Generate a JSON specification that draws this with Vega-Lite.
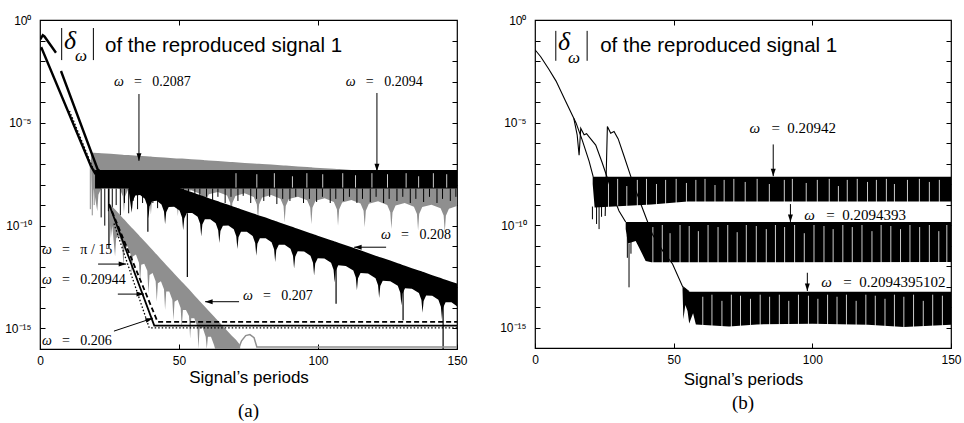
{
"$schema": "https://vega.github.io/schema/vega-lite/v6.json",
"background": "white",
"padding": {"left": 4, "top": 8, "right": 5, "bottom": 5},
"spacing": 31,
"config": {
  "view": {"stroke": "#000", "strokeWidth": 1.2},
  "axis": {"domain": false, "grid": false, "tickColor": "#000", "tickWidth": 1, "tickSize": -5, "labelFont": "Liberation Sans", "labelFontSize": 12, "labelColor": "#000", "titleFont": "Liberation Sans", "titleFontSize": 17, "titleFontWeight": "normal", "titleColor": "#000", "labelFlush": false, "labelOverlap": false}
},
"datasets": {
"L_g2087": [
{"x":18.3,"hi":-6.45,"lo":-6.6},{"x":18.8,"hi":-6.45,"lo":-9.2},{"x":19.3,"hi":-6.46,"lo":-8.2},
{"x":20.6,"hi":-6.47,"lo":-9.3},{"x":21.0,"hi":-6.47,"lo":-8.5},{"x":22.1,"hi":-6.48,"lo":-8.16},{"x":25.4,"hi":-6.51,"lo":-8.04},{"x":28.7,"hi":-6.54,"lo":-8.22},{"x":29.8,"hi":-6.55,"lo":-8.57},
{"x":30.2,"hi":-6.56,"lo":-9.38},{"x":30.6,"hi":-6.56,"lo":-8.58},{"x":31.7,"hi":-6.57,"lo":-8.24},{"x":35.0,"hi":-6.60,"lo":-8.12},{"x":38.3,"hi":-6.63,"lo":-8.30},{"x":39.4,"hi":-6.64,"lo":-8.65},
{"x":39.9,"hi":-6.64,"lo":-9.46},{"x":40.3,"hi":-6.65,"lo":-8.66},{"x":41.4,"hi":-6.66,"lo":-8.32},{"x":44.7,"hi":-6.69,"lo":-8.20},{"x":48.0,"hi":-6.72,"lo":-8.38},{"x":49.1,"hi":-6.73,"lo":-8.73},
{"x":49.6,"hi":-6.73,"lo":-9.54},{"x":50.0,"hi":-6.74,"lo":-8.74},{"x":51.1,"hi":-6.74,"lo":-8.40},{"x":54.4,"hi":-6.77,"lo":-8.28},{"x":57.7,"hi":-6.80,"lo":-8.46},{"x":58.8,"hi":-6.81,"lo":-8.81},
{"x":59.2,"hi":-6.82,"lo":-9.62},{"x":59.6,"hi":-6.82,"lo":-8.82},{"x":60.7,"hi":-6.83,"lo":-8.48},{"x":64.0,"hi":-6.86,"lo":-8.36},{"x":67.3,"hi":-6.89,"lo":-8.54},{"x":68.4,"hi":-6.90,"lo":-8.89},
{"x":68.8,"hi":-6.90,"lo":-9.70},{"x":69.2,"hi":-6.91,"lo":-8.90},{"x":70.3,"hi":-6.92,"lo":-8.56},{"x":73.6,"hi":-6.95,"lo":-8.43},{"x":76.9,"hi":-6.98,"lo":-8.61},{"x":78.0,"hi":-6.99,"lo":-8.97},
{"x":78.4,"hi":-6.99,"lo":-9.77},{"x":78.8,"hi":-6.99,"lo":-8.97},{"x":79.9,"hi":-7.00,"lo":-8.63},{"x":83.2,"hi":-7.03,"lo":-8.51},{"x":86.5,"hi":-7.06,"lo":-8.69},{"x":87.6,"hi":-7.07,"lo":-9.04},
{"x":88.0,"hi":-7.08,"lo":-9.85},{"x":88.4,"hi":-7.08,"lo":-9.05},{"x":89.5,"hi":-7.09,"lo":-8.71},{"x":92.8,"hi":-7.12,"lo":-8.59},{"x":96.1,"hi":-7.15,"lo":-8.77},{"x":97.2,"hi":-7.16,"lo":-9.12},
{"x":97.6,"hi":-7.16,"lo":-9.93},{"x":98.0,"hi":-7.17,"lo":-9.13},{"x":99.1,"hi":-7.18,"lo":-8.79},{"x":102.4,"hi":-7.21,"lo":-8.67},{"x":105.7,"hi":-7.24,"lo":-8.85},{"x":106.8,"hi":-7.25,"lo":-9.20},
{"x":107.2,"hi":-7.25,"lo":-10.01},{"x":107.6,"hi":-7.25,"lo":-9.21},{"x":108.7,"hi":-7.26,"lo":-8.87},{"x":112.0,"hi":-7.29,"lo":-8.75},{"x":115.3,"hi":-7.32,"lo":-8.92},{"x":116.4,"hi":-7.33,"lo":-9.28},
{"x":116.8,"hi":-7.34,"lo":-10.08},{"x":117.2,"hi":-7.34,"lo":-9.28},{"x":118.3,"hi":-7.35,"lo":-8.94},{"x":121.6,"hi":-7.38,"lo":-8.82},{"x":124.9,"hi":-7.41,"lo":-9.00},{"x":126.0,"hi":-7.42,"lo":-9.35},
{"x":126.4,"hi":-7.42,"lo":-10.16},{"x":126.8,"hi":-7.43,"lo":-9.36},{"x":127.9,"hi":-7.44,"lo":-9.02},{"x":131.2,"hi":-7.47,"lo":-8.90},{"x":134.5,"hi":-7.50,"lo":-9.08},{"x":135.6,"hi":-7.51,"lo":-9.43},
{"x":136.0,"hi":-7.51,"lo":-10.24},{"x":136.4,"hi":-7.51,"lo":-9.44},{"x":137.5,"hi":-7.52,"lo":-9.10},{"x":140.8,"hi":-7.55,"lo":-8.98},{"x":144.1,"hi":-7.58,"lo":-9.16},{"x":145.2,"hi":-7.59,"lo":-9.51},
{"x":145.6,"hi":-7.60,"lo":-10.32},{"x":146.0,"hi":-7.60,"lo":-9.52},{"x":147.1,"hi":-7.61,"lo":-9.18},{"x":150.0,"hi":-7.64,"lo":-9.05}
],
"L_b2094": [{"x":19.8,"hi":-7.3,"lo":-8.2},{"x":150,"hi":-7.3,"lo":-8.2}],
"L_wh2094": [
{"x":70.5,"hi":-7.45,"lo":-8.15},{"x":78.0,"hi":-7.5,"lo":-8.15},{"x":84.3,"hi":-7.45,"lo":-8.15},{"x":90.8,"hi":-7.6,"lo":-8.15},{"x":96.0,"hi":-7.45,"lo":-8.15},{"x":101.7,"hi":-7.5,"lo":-8.15},{"x":108.9,"hi":-7.45,"lo":-8.15},
{"x":113.5,"hi":-7.55,"lo":-8.15},{"x":119.4,"hi":-7.45,"lo":-8.15},{"x":125.0,"hi":-7.5,"lo":-8.15},{"x":131.7,"hi":-7.45,"lo":-8.15},{"x":136.2,"hi":-7.6,"lo":-8.15},{"x":141.5,"hi":-7.45,"lo":-8.15},{"x":146.3,"hi":-7.5,"lo":-8.15}
],
"L_sp2094": [
{"x":22.0,"hi":-8.2,"lo":-9.6},{"x":23.3,"hi":-8.2,"lo":-10.0},{"x":24.6,"hi":-8.2,"lo":-9.3},{"x":26.0,"hi":-8.2,"lo":-9.8},{"x":27.4,"hi":-8.2,"lo":-9.0},{"x":28.9,"hi":-8.2,"lo":-9.5},
{"x":30.4,"hi":-8.2,"lo":-8.9},{"x":31.9,"hi":-8.2,"lo":-9.4},{"x":33.5,"hi":-8.2,"lo":-8.8},{"x":35.1,"hi":-8.2,"lo":-9.2},{"x":36.9,"hi":-8.2,"lo":-8.9},{"x":40.6,"hi":-8.2,"lo":-8.9},
{"x":42.3,"hi":-8.2,"lo":-9.15},{"x":44.1,"hi":-8.2,"lo":-8.7},{"x":45.8,"hi":-8.2,"lo":-9.0},{"x":47.7,"hi":-8.2,"lo":-8.8},{"x":49.4,"hi":-8.2,"lo":-9.1},{"x":51.6,"hi":-8.2,"lo":-8.7},
{"x":53.4,"hi":-8.2,"lo":-8.95},{"x":55.7,"hi":-8.2,"lo":-8.65},{"x":57.5,"hi":-8.2,"lo":-8.9},{"x":59.9,"hi":-8.2,"lo":-8.6},{"x":62.1,"hi":-8.2,"lo":-8.85},{"x":64.0,"hi":-8.2,"lo":-8.6},
{"x":66.6,"hi":-8.2,"lo":-8.9},{"x":68.7,"hi":-8.2,"lo":-8.6},{"x":71.2,"hi":-8.2,"lo":-8.8},{"x":73.1,"hi":-8.2,"lo":-8.55},{"x":75.8,"hi":-8.2,"lo":-8.9},{"x":77.9,"hi":-8.2,"lo":-8.7},
{"x":80.5,"hi":-8.2,"lo":-8.8},{"x":82.6,"hi":-8.2,"lo":-8.6},{"x":85.2,"hi":-8.2,"lo":-8.95},{"x":87.3,"hi":-8.2,"lo":-8.7},{"x":89.9,"hi":-8.2,"lo":-8.8},{"x":92.0,"hi":-8.2,"lo":-8.6},
{"x":94.8,"hi":-8.2,"lo":-8.9},{"x":96.9,"hi":-8.2,"lo":-8.7},{"x":99.5,"hi":-8.2,"lo":-8.85},{"x":101.6,"hi":-8.2,"lo":-8.6},{"x":104.4,"hi":-8.2,"lo":-8.9},{"x":106.4,"hi":-8.2,"lo":-8.7},
{"x":109.2,"hi":-8.2,"lo":-8.8},{"x":111.3,"hi":-8.2,"lo":-8.6},{"x":114.0,"hi":-8.2,"lo":-8.9},{"x":116.0,"hi":-8.2,"lo":-8.7},{"x":118.8,"hi":-8.2,"lo":-8.85},{"x":120.9,"hi":-8.2,"lo":-8.6},
{"x":123.6,"hi":-8.2,"lo":-8.9},{"x":125.6,"hi":-8.2,"lo":-8.7},{"x":128.4,"hi":-8.2,"lo":-8.8},{"x":130.5,"hi":-8.2,"lo":-8.6},{"x":133.2,"hi":-8.2,"lo":-8.9},{"x":135.2,"hi":-8.2,"lo":-8.7},
{"x":138.0,"hi":-8.2,"lo":-8.85},{"x":140.1,"hi":-8.2,"lo":-8.6},{"x":142.8,"hi":-8.2,"lo":-8.9},{"x":144.8,"hi":-8.2,"lo":-8.7},{"x":147.6,"hi":-8.2,"lo":-8.8},{"x":149.6,"hi":-8.2,"lo":-8.6}
],
"L_b208": [
{"x":32.0,"hi":-7.32,"lo":-8.40},{"x":33.0,"hi":-7.37,"lo":-9.37},{"x":33.4,"hi":-7.39,"lo":-8.79},{"x":34.3,"hi":-7.43,"lo":-8.53},{"x":36.0,"hi":-7.51,"lo":-8.51},{"x":37.7,"hi":-7.59,"lo":-8.69},{"x":38.6,"hi":-7.63,"lo":-9.03},
{"x":39.0,"hi":-7.65,"lo":-9.65},{"x":39.4,"hi":-7.67,"lo":-9.07},{"x":40.3,"hi":-7.71,"lo":-8.81},{"x":42.0,"hi":-7.79,"lo":-8.79},{"x":43.7,"hi":-7.87,"lo":-8.97},{"x":44.6,"hi":-7.91,"lo":-9.31},
{"x":45.0,"hi":-7.93,"lo":-9.93},{"x":45.4,"hi":-7.95,"lo":-9.35},{"x":46.3,"hi":-7.99,"lo":-9.09},{"x":48.25,"hi":-8.08,"lo":-9.08},{"x":50.2,"hi":-8.17,"lo":-9.27},{"x":51.1,"hi":-8.21,"lo":-9.61},
{"x":51.5,"hi":-8.23,"lo":-10.23},{"x":51.9,"hi":-8.25,"lo":-9.65},{"x":52.8,"hi":-8.29,"lo":-9.39},{"x":54.75,"hi":-8.38,"lo":-9.38},{"x":56.7,"hi":-8.47,"lo":-9.57},{"x":57.6,"hi":-8.51,"lo":-9.91},
{"x":58.0,"hi":-8.53,"lo":-10.53},{"x":58.4,"hi":-8.55,"lo":-9.95},{"x":59.3,"hi":-8.59,"lo":-9.69},{"x":61.25,"hi":-8.69,"lo":-9.69},{"x":63.2,"hi":-8.78,"lo":-9.88},{"x":64.1,"hi":-8.82,"lo":-10.22},
{"x":64.5,"hi":-8.84,"lo":-10.84},{"x":64.9,"hi":-8.86,"lo":-10.26},{"x":65.8,"hi":-8.90,"lo":-10.00},{"x":67.75,"hi":-8.99,"lo":-9.99},{"x":69.7,"hi":-9.08,"lo":-10.18},{"x":70.6,"hi":-9.12,"lo":-10.52},
{"x":71.0,"hi":-9.14,"lo":-11.14},{"x":71.4,"hi":-9.16,"lo":-10.56},{"x":72.3,"hi":-9.20,"lo":-10.30},{"x":74.4,"hi":-9.30,"lo":-10.30},{"x":76.5,"hi":-9.40,"lo":-10.50},{"x":77.4,"hi":-9.44,"lo":-10.84},
{"x":77.8,"hi":-9.46,"lo":-11.46},{"x":78.2,"hi":-9.48,"lo":-10.88},{"x":79.1,"hi":-9.52,"lo":-10.62},{"x":81.2,"hi":-9.61,"lo":-10.61},{"x":83.3,"hi":-9.71,"lo":-10.81},{"x":84.2,"hi":-9.75,"lo":-11.15},
{"x":84.6,"hi":-9.77,"lo":-11.77},{"x":85.0,"hi":-9.79,"lo":-11.19},{"x":85.9,"hi":-9.83,"lo":-10.93},{"x":88.0,"hi":-9.93,"lo":-10.93},{"x":90.1,"hi":-10.03,"lo":-11.13},{"x":91.0,"hi":-10.07,"lo":-11.47},
{"x":91.4,"hi":-10.09,"lo":-12.09},{"x":91.8,"hi":-10.11,"lo":-11.51},{"x":92.7,"hi":-10.15,"lo":-11.25},{"x":95.0,"hi":-10.26,"lo":-11.26},{"x":97.3,"hi":-10.37,"lo":-11.47},{"x":98.2,"hi":-10.41,"lo":-11.81},
{"x":98.6,"hi":-10.43,"lo":-12.43},{"x":99.0,"hi":-10.44,"lo":-11.84},{"x":99.9,"hi":-10.49,"lo":-11.59},{"x":102.3,"hi":-10.60,"lo":-11.60},{"x":104.7,"hi":-10.71,"lo":-11.81},{"x":105.6,"hi":-10.75,"lo":-12.15},
{"x":106.0,"hi":-10.77,"lo":-12.77},{"x":106.4,"hi":-10.79,"lo":-12.19},{"x":107.3,"hi":-10.83,"lo":-11.93},{"x":110.0,"hi":-10.96,"lo":-11.96},{"x":112.7,"hi":-11.08,"lo":-12.18},{"x":113.6,"hi":-11.12,"lo":-12.52},
{"x":114.0,"hi":-11.14,"lo":-13.14},{"x":114.4,"hi":-11.16,"lo":-12.56},{"x":115.3,"hi":-11.20,"lo":-12.30},{"x":118.0,"hi":-11.33,"lo":-12.33},{"x":120.7,"hi":-11.46,"lo":-12.56},{"x":121.6,"hi":-11.50,"lo":-12.90},
{"x":122.0,"hi":-11.52,"lo":-13.52},{"x":122.4,"hi":-11.54,"lo":-12.94},{"x":123.3,"hi":-11.58,"lo":-12.68},{"x":126.0,"hi":-11.70,"lo":-12.70},{"x":128.7,"hi":-11.83,"lo":-12.93},{"x":129.6,"hi":-11.87,"lo":-13.27},
{"x":130.0,"hi":-11.89,"lo":-13.89},{"x":130.4,"hi":-11.91,"lo":-13.31},{"x":131.3,"hi":-11.95,"lo":-13.05},{"x":133.8,"hi":-12.07,"lo":-13.07},{"x":136.3,"hi":-12.18,"lo":-13.28},{"x":137.2,"hi":-12.22,"lo":-13.62},
{"x":137.6,"hi":-12.24,"lo":-14.24},{"x":138.0,"hi":-12.26,"lo":-13.66},{"x":138.9,"hi":-12.30,"lo":-13.40},{"x":141.1,"hi":-12.41,"lo":-13.41},{"x":143.3,"hi":-12.51,"lo":-13.61},{"x":144.2,"hi":-12.55,"lo":-13.95},
{"x":144.6,"hi":-12.57,"lo":-14.57},{"x":145.0,"hi":-12.59,"lo":-13.99},{"x":145.9,"hi":-12.63,"lo":-13.73},{"x":148.0,"hi":-12.73,"lo":-13.73},{"x":150.0,"hi":-12.82,"lo":-13.92}
],
"L_long": [{"x":24.8,"hi":-8.2,"lo":-11.1},{"x":38.8,"hi":-8.4,"lo":-10.3},{"x":53.0,"hi":-9.4,"lo":-12.5},{"x":106.5,"hi":-11.9,"lo":-13.8},{"x":130.6,"hi":-13.0,"lo":-14.6},{"x":145.0,"hi":-13.8,"lo":-16.0}],
"L_g207": [
{"x":24.8,"hi":-8.9,"lo":-9.2},{"x":25.5,"hi":-9.0,"lo":-10.6},{"x":26.0,"hi":-9.08,"lo":-10.0},{"x":27.0,"hi":-9.22,"lo":-11.5},{"x":27.4,"hi":-9.28,"lo":-10.6},{"x":28.5,"hi":-9.44,"lo":-10.5},
{"x":29.6,"hi":-9.60,"lo":-10.9},{"x":30.0,"hi":-9.66,"lo":-12.0},{"x":30.4,"hi":-9.72,"lo":-11.1},{"x":31.5,"hi":-9.88,"lo":-11.0},{"x":32.6,"hi":-10.04,"lo":-11.4},{"x":33.0,"hi":-10.10,"lo":-12.4},
{"x":33.4,"hi":-10.15,"lo":-11.5},{"x":34.5,"hi":-10.31,"lo":-11.4},{"x":35.6,"hi":-10.47,"lo":-11.8},{"x":36.0,"hi":-10.54,"lo":-12.8},{"x":36.4,"hi":-10.59,"lo":-11.9},{"x":37.5,"hi":-10.75,"lo":-11.85},
{"x":38.6,"hi":-10.91,"lo":-12.2},{"x":39.0,"hi":-10.97,"lo":-13.3},{"x":39.4,"hi":-11.03,"lo":-12.4},{"x":40.5,"hi":-11.19,"lo":-12.3},{"x":41.6,"hi":-11.35,"lo":-12.7},{"x":42.0,"hi":-11.41,"lo":-13.7},
{"x":42.4,"hi":-11.47,"lo":-12.8},{"x":43.5,"hi":-11.63,"lo":-12.7},{"x":44.6,"hi":-11.79,"lo":-13.1},{"x":45.0,"hi":-11.85,"lo":-14.1},{"x":45.4,"hi":-11.91,"lo":-13.2},{"x":46.5,"hi":-12.07,"lo":-13.2},
{"x":47.6,"hi":-12.23,"lo":-13.6},{"x":48.0,"hi":-12.29,"lo":-14.6},{"x":48.4,"hi":-12.35,"lo":-13.7},{"x":49.5,"hi":-12.51,"lo":-13.6},{"x":50.6,"hi":-12.67,"lo":-14.0},{"x":51.0,"hi":-12.73,"lo":-15.0},
{"x":51.4,"hi":-12.78,"lo":-14.1},{"x":52.5,"hi":-12.94,"lo":-14.1},{"x":53.6,"hi":-13.10,"lo":-14.4},{"x":54.0,"hi":-13.16,"lo":-15.5},{"x":54.4,"hi":-13.22,"lo":-14.5},{"x":55.5,"hi":-13.38,"lo":-14.5},
{"x":56.6,"hi":-13.54,"lo":-14.9},{"x":57.0,"hi":-13.60,"lo":-16},{"x":57.4,"hi":-13.66,"lo":-15.0},{"x":58.5,"hi":-13.82,"lo":-14.95},{"x":59.6,"hi":-13.98,"lo":-15.4},{"x":60.0,"hi":-14.04,"lo":-16},
{"x":60.4,"hi":-14.10,"lo":-15.4},{"x":61.5,"hi":-14.26,"lo":-15.4},{"x":62.6,"hi":-14.42,"lo":-15.8},{"x":63.0,"hi":-14.48,"lo":-16},{"x":66.0,"hi":-14.92,"lo":-16},{"x":69.0,"hi":-15.35,"lo":-16},
{"x":70.5,"hi":-15.55,"lo":-16},{"x":72.0,"hi":-15.8,"lo":-16}
],
"L_g207f": [{"x":71.5,"lg":-15.95},{"x":72.5,"lg":-15.6},{"x":74.0,"lg":-15.35},{"x":75.5,"lg":-15.3},{"x":77.0,"lg":-15.45},{"x":78.0,"lg":-15.9},{"x":150,"lg":-15.9}],
"L_gsp": [{"x":18.1,"hi":-7.0,"lo":-9.2},{"x":18.8,"hi":-7.0,"lo":-9.5},{"x":19.5,"hi":-7.2,"lo":-9.0}],
"L_pi15": [{"x":26.6,"lg":-9.9},{"x":39.3,"lg":-14.97},{"x":150,"lg":-14.97}],
"L_20944": [{"x":24.8,"lg":-8.95},{"x":41.1,"lg":-14.86},{"x":150,"lg":-14.86}],
"L_206": [{"x":24.8,"lg":-8.95},{"x":42.3,"lg":-14.68},{"x":150,"lg":-14.68}],
"L_init": [
{"seg":"a","x":0.1,"lg":-0.94},{"seg":"a","x":1.0,"lg":-0.74},{"seg":"a","x":1.6,"lg":-0.8},{"seg":"a","x":5.75,"lg":-1.59},
{"seg":"b","x":7.55,"lg":-2.48},{"seg":"b","x":20.75,"lg":-7.27},{"seg":"b","x":21.5,"lg":-7.35},
{"seg":"c","x":0.0,"lg":-1.43},{"seg":"c","x":0.6,"lg":-1.38},{"seg":"c","x":18.3,"lg":-7.1},{"seg":"c","x":20.0,"lg":-7.5}
],
"L_initdot": [{"x":10.6,"lg":-4.42},{"x":19.0,"lg":-7.2},{"x":20.5,"lg":-7.6}],
"L_bars": [{"x":7.8,"hi":-0.39,"lo":-1.95},{"x":19.2,"hi":-0.39,"lo":-1.95}],
"L_delta": [{"x":8.6,"lg":-1.42,"t":"δ"}],
"L_omega": [{"x":12.6,"lg":-2.0,"t":"ω"}],
"L_head": [{"x":23.4,"lg":-1.54,"t":"of the reproduced signal 1"}],
"L_labels": [
{"x":26.6,"lg":-3.2,"t":"=\u00a0\u00a0\u00a00.2087"},
{"x":110,"lg":-3.2,"t":"=\u00a0\u00a0\u00a00.2094"},
{"x":122.7,"lg":-10.66,"t":"=\u00a0\u00a0\u00a00.208"},
{"x":73,"lg":-13.6,"t":"=\u00a0\u00a0\u00a00.207"},
{"x":0.7,"lg":-11.4,"t":"=\u00a0\u00a0\u00a0π\u00a0/\u00a015"},
{"x":0.7,"lg":-12.85,"t":"=\u00a0\u00a0\u00a00.20944"},
{"x":0.7,"lg":-15.8,"t":"=\u00a0\u00a0\u00a00.206"}
],
"L_arrows": [
{"x":35.6,"x2":35.6,"ya":-3.6,"yb":-6.85,"dir":"down"},
{"x":121.2,"x2":121.2,"ya":-3.55,"yb":-7.35,"dir":"down"},
{"x":124.5,"x2":113,"ya":-11.05,"yb":-11.05,"dir":"left"},
{"x":71.6,"x2":59.4,"ya":-13.7,"yb":-13.7,"dir":"left"},
{"x":20.9,"x2":31,"ya":-11.87,"yb":-11.87,"dir":"right"},
{"x":28,"x2":37.4,"ya":-13.33,"yb":-13.33,"dir":"right"},
{"x":26.6,"x2":40.6,"ya":-15.13,"yb":-14.5,"dir":"diag"}
],
"R_b1": [{"x":20.8,"hi":-7.65,"lo":-8.0},{"x":21.5,"hi":-7.65,"lo":-9.15},{"x":42,"hi":-7.65,"lo":-9.0},{"x":55,"hi":-7.65,"lo":-8.85},{"x":150,"hi":-7.65,"lo":-8.85}],
"R_b2": [{"x":32.7,"hi":-9.85,"lo":-10.2},{"x":33.5,"hi":-9.85,"lo":-10.9},{"x":36.3,"hi":-9.85,"lo":-10.78},{"x":37.5,"hi":-9.85,"lo":-11.1},{"x":39.9,"hi":-9.85,"lo":-11.75},{"x":42,"hi":-9.85,"lo":-11.82},{"x":150,"hi":-9.85,"lo":-11.8}],
"R_b3": [{"x":53.2,"hi":-13.0,"lo":-13.2},{"x":53.5,"hi":-13.05,"lo":-14.6},{"x":54.2,"hi":-13.1,"lo":-13.9},{"x":55.0,"hi":-13.2,"lo":-14.2},{"x":55.6,"hi":-13.25,"lo":-14.8},{"x":57,"hi":-13.25,"lo":-14.3},{"x":58,"hi":-13.25,"lo":-14.85},{"x":70,"hi":-13.25,"lo":-14.95},{"x":80,"hi":-13.25,"lo":-14.85},{"x":100,"hi":-13.25,"lo":-14.82},{"x":120,"hi":-13.25,"lo":-14.87},{"x":133,"hi":-13.25,"lo":-14.97},{"x":150,"hi":-13.25,"lo":-14.87}],
"R_white": [
{"x":26.5,"hi":-7.9,"lo":-9.2},{"x":29.8,"hi":-7.75,"lo":-9.2},{"x":33.1,"hi":-8.1,"lo":-9.2},{"x":36.9,"hi":-7.8,"lo":-9.2},{"x":40.2,"hi":-7.75,"lo":-9.2},{"x":43.8,"hi":-8.0,"lo":-9.2},
{"x":47.1,"hi":-7.8,"lo":-9.2},{"x":50.9,"hi":-7.75,"lo":-9.2},{"x":54.6,"hi":-7.95,"lo":-9.2},{"x":58.0,"hi":-7.8,"lo":-9.2},{"x":61.3,"hi":-7.75,"lo":-9.2},{"x":64.9,"hi":-8.05,"lo":-9.2},
{"x":68.2,"hi":-7.8,"lo":-9.2},{"x":71.7,"hi":-7.75,"lo":-9.2},{"x":75.8,"hi":-7.9,"lo":-9.2},{"x":80.1,"hi":-7.75,"lo":-9.2},{"x":84.5,"hi":-8.0,"lo":-9.2},{"x":89.9,"hi":-7.8,"lo":-9.2},
{"x":92.8,"hi":-7.75,"lo":-9.2},{"x":97.8,"hi":-7.95,"lo":-9.2},{"x":101.8,"hi":-7.8,"lo":-9.2},{"x":106.1,"hi":-7.75,"lo":-9.2},{"x":109.4,"hi":-8.1,"lo":-9.2},{"x":112.6,"hi":-7.8,"lo":-9.2},
{"x":116.2,"hi":-7.75,"lo":-9.2},{"x":119.9,"hi":-7.9,"lo":-9.2},{"x":123.1,"hi":-7.8,"lo":-9.2},{"x":126.7,"hi":-7.75,"lo":-9.2},{"x":129.6,"hi":-8.0,"lo":-9.2},{"x":134.3,"hi":-7.8,"lo":-9.2},
{"x":138.6,"hi":-7.75,"lo":-9.2},{"x":142.2,"hi":-7.9,"lo":-9.2},{"x":145.8,"hi":-7.8,"lo":-9.2},
{"x":42.5,"hi":-10.1,"lo":-11.95},{"x":45.9,"hi":-10.0,"lo":-11.95},{"x":48.7,"hi":-10.4,"lo":-11.95},{"x":52.3,"hi":-10.0,"lo":-11.95},{"x":55.6,"hi":-10.05,"lo":-11.95},{"x":58.9,"hi":-10.3,"lo":-11.95},
{"x":62.4,"hi":-10.0,"lo":-11.95},{"x":66.0,"hi":-10.1,"lo":-11.95},{"x":69.5,"hi":-10.0,"lo":-11.95},{"x":72.9,"hi":-10.35,"lo":-11.95},{"x":76.2,"hi":-10.0,"lo":-11.95},{"x":79.8,"hi":-10.05,"lo":-11.95},
{"x":83.4,"hi":-10.2,"lo":-11.95},{"x":86.7,"hi":-10.0,"lo":-11.95},{"x":90.0,"hi":-10.1,"lo":-11.95},{"x":93.6,"hi":-10.0,"lo":-11.95},{"x":97.1,"hi":-10.4,"lo":-11.95},{"x":100.6,"hi":-10.0,"lo":-11.95},
{"x":104.2,"hi":-10.05,"lo":-11.95},{"x":107.5,"hi":-10.2,"lo":-11.95},{"x":111.0,"hi":-10.0,"lo":-11.95},{"x":114.4,"hi":-10.1,"lo":-11.95},{"x":117.9,"hi":-10.0,"lo":-11.95},{"x":121.5,"hi":-10.3,"lo":-11.95},
{"x":124.8,"hi":-10.0,"lo":-11.95},{"x":128.3,"hi":-10.05,"lo":-11.95},{"x":131.8,"hi":-10.2,"lo":-11.95},{"x":135.2,"hi":-10.0,"lo":-11.95},{"x":138.7,"hi":-10.1,"lo":-11.95},{"x":142.2,"hi":-10.0,"lo":-11.95},
{"x":145.6,"hi":-10.3,"lo":-11.95},{"x":148.5,"hi":-10.0,"lo":-11.95},
{"x":60.5,"hi":-13.5,"lo":-15.05},{"x":63.8,"hi":-13.4,"lo":-15.05},{"x":67.4,"hi":-13.7,"lo":-15.05},{"x":70.8,"hi":-13.4,"lo":-15.05},{"x":74.1,"hi":-13.45,"lo":-15.05},{"x":77.7,"hi":-13.6,"lo":-15.05},
{"x":81.2,"hi":-13.4,"lo":-15.05},{"x":84.6,"hi":-13.5,"lo":-15.05},{"x":88.1,"hi":-13.4,"lo":-15.05},{"x":91.5,"hi":-13.7,"lo":-15.05},{"x":95.0,"hi":-13.4,"lo":-15.05},{"x":98.6,"hi":-13.45,"lo":-15.05},
{"x":102.0,"hi":-13.6,"lo":-15.05},{"x":105.5,"hi":-13.4,"lo":-15.05},{"x":108.9,"hi":-13.5,"lo":-15.05},{"x":112.3,"hi":-13.4,"lo":-15.05},{"x":115.8,"hi":-13.7,"lo":-15.05},{"x":119.3,"hi":-13.4,"lo":-15.05},
{"x":122.7,"hi":-13.45,"lo":-15.05},{"x":126.2,"hi":-13.6,"lo":-15.05},{"x":129.6,"hi":-13.4,"lo":-15.05},{"x":133.0,"hi":-13.5,"lo":-15.05},{"x":136.5,"hi":-13.4,"lo":-15.05},{"x":140.0,"hi":-13.7,"lo":-15.05},
{"x":143.4,"hi":-13.4,"lo":-15.05},{"x":146.9,"hi":-13.45,"lo":-15.05}
],
"R_spikes": [{"x":20.7,"hi":-9.1,"lo":-9.72},{"x":22.2,"hi":-9.1,"lo":-9.95},{"x":23.1,"hi":-9.1,"lo":-10.2},{"x":24.0,"hi":-9.1,"lo":-9.6},{"x":33.9,"hi":-10.9,"lo":-13.04},{"x":33.3,"hi":-10.5,"lo":-11.6},{"x":34.6,"hi":-10.8,"lo":-11.4}],
"R_lines": [
{"seg":"a","x":0,"lg":-1.45},{"seg":"a","x":2,"lg":-1.78},{"seg":"a","x":5,"lg":-2.4},{"seg":"a","x":7.6,"lg":-2.98},{"seg":"a","x":11,"lg":-3.95},{"seg":"a","x":14.8,"lg":-5.02},{"seg":"a","x":17,"lg":-5.85},{"seg":"a","x":19.5,"lg":-6.88},{"seg":"a","x":21,"lg":-7.65},
{"seg":"b","x":14.0,"lg":-4.8},{"seg":"b","x":15.2,"lg":-5.6},{"seg":"b","x":15.9,"lg":-6.6},{"seg":"b","x":16.5,"lg":-5.28},{"seg":"b","x":17.7,"lg":-5.6},{"seg":"b","x":18.6,"lg":-5.55},{"seg":"b","x":19.5,"lg":-5.7},{"seg":"b","x":21.9,"lg":-6.1},{"seg":"b","x":24.2,"lg":-6.95},{"seg":"b","x":26.7,"lg":-7.95},{"seg":"b","x":28.5,"lg":-8.7},{"seg":"b","x":30.3,"lg":-9.32},{"seg":"b","x":32.7,"lg":-9.85},
{"seg":"c","x":25.3,"lg":-9.56},{"seg":"c","x":26.1,"lg":-5.19},{"seg":"c","x":27.3,"lg":-5.52},{"seg":"c","x":28.5,"lg":-5.44},{"seg":"c","x":30,"lg":-5.8},{"seg":"c","x":32,"lg":-6.6},{"seg":"c","x":35.1,"lg":-7.86},{"seg":"c","x":38.5,"lg":-9.1},{"seg":"c","x":42.3,"lg":-10.45},{"seg":"c","x":46,"lg":-11.25},{"seg":"c","x":49.6,"lg":-11.9},{"seg":"c","x":53.2,"lg":-13.0},{"seg":"c","x":55.6,"lg":-13.25}
],
"R_bars": [{"x":7.5,"hi":-0.53,"lo":-1.99},{"x":18.8,"hi":-0.53,"lo":-1.99}],
"R_delta": [{"x":8.3,"lg":-1.46,"t":"δ"}],
"R_omega": [{"x":11.9,"lg":-2.09,"t":"ω"}],
"R_head": [{"x":23.5,"lg":-1.55,"t":"of the reproduced signal 1"}],
"R_labels": [
{"x":77.3,"lg":-5.5,"t":"=\u00a0\u00a00.20942"},
{"x":97.1,"lg":-9.76,"t":"=\u00a0\u00a00.2094393"},
{"x":103.2,"lg":-13.0,"t":"=\u00a0\u00a00.2094395102"}
],
"R_arrows": [
{"x":85.9,"x2":85.9,"ya":-6.07,"yb":-7.62,"dir":"down"},
{"x":92.1,"x2":92.1,"ya":-8.98,"yb":-9.85,"dir":"down"},
{"x":98.2,"x2":98.2,"ya":-12.33,"yb":-13.22,"dir":"down"}
]
},
"hconcat": [
{
"width": 417, "height": 329,
"title": {"text": "(a)", "orient": "bottom", "anchor": "middle", "frame": "group", "font": "Liberation Serif", "fontSize": 19, "fontWeight": "normal", "color": "#000", "offset": 17},
"resolve": {"axis": {"x": "independent", "y": "independent"}},
"layer": [
{"data": {"name": "L_g2087"}, "mark": {"type": "area", "color": "#8f8f8f", "clip": true},
 "encoding": {
  "x": {"field": "x", "type": "quantitative", "scale": {"domain": [0,150], "nice": false, "zero": false}, "axis": {"orient": "bottom", "values": [0,50,100,150], "title": "Signal’s periods", "labelPadding": 11, "titleY": 28, "titleBaseline": "middle"}},
  "y": {"field": "hi", "type": "quantitative", "scale": {"domain": [-16,0], "nice": false, "zero": false}, "axis": {"orient": "left", "values": [-15,-14,-13,-12,-11,-10,-9,-8,-7,-6,-5,-4,-3,-2,-1,0], "labelExpr": "datum.value === 0 ? '10⁰' : datum.value === -5 ? '10⁻⁵' : datum.value === -10 ? '10⁻¹⁰' : datum.value === -15 ? '10⁻¹⁵' : ''", "title": null, "labelPadding": 14}},
  "y2": {"field": "lo"}}},
{"data": {"name": "L_b2094"}, "mark": {"type": "area", "color": "#000", "clip": true},
 "encoding": {"x": {"field": "x", "type": "quantitative", "axis": null}, "y": {"field": "hi", "type": "quantitative", "axis": null}, "y2": {"field": "lo"}}},
{"data": {"name": "L_wh2094"}, "mark": {"type": "rule", "color": "#fff", "strokeWidth": 0.8},
 "encoding": {"x": {"field": "x", "type": "quantitative", "axis": null}, "y": {"field": "hi", "type": "quantitative", "axis": null}, "y2": {"field": "lo"}}},
{"data": {"name": "L_sp2094"}, "mark": {"type": "rule", "color": "#000", "strokeWidth": 1},
 "encoding": {"x": {"field": "x", "type": "quantitative", "axis": null}, "y": {"field": "hi", "type": "quantitative", "axis": null}, "y2": {"field": "lo"}}},
{"data": {"name": "L_b208"}, "mark": {"type": "area", "color": "#000", "clip": true},
 "encoding": {"x": {"field": "x", "type": "quantitative", "axis": null}, "y": {"field": "hi", "type": "quantitative", "axis": null}, "y2": {"field": "lo"}}},
{"data": {"name": "L_long"}, "mark": {"type": "rule", "color": "#000", "strokeWidth": 1.2, "clip": true},
 "encoding": {"x": {"field": "x", "type": "quantitative", "axis": null}, "y": {"field": "hi", "type": "quantitative", "axis": null}, "y2": {"field": "lo"}}},
{"data": {"name": "L_g207"}, "mark": {"type": "area", "color": "#8f8f8f", "clip": true},
 "encoding": {"x": {"field": "x", "type": "quantitative", "axis": null}, "y": {"field": "hi", "type": "quantitative", "axis": null}, "y2": {"field": "lo"}}},
{"data": {"name": "L_g207f"}, "mark": {"type": "line", "color": "#8f8f8f", "strokeWidth": 1.5, "clip": true},
 "encoding": {"x": {"field": "x", "type": "quantitative", "axis": null}, "y": {"field": "lg", "type": "quantitative", "axis": null}}},
{"data": {"name": "L_gsp"}, "mark": {"type": "rule", "color": "#8f8f8f", "strokeWidth": 1},
 "encoding": {"x": {"field": "x", "type": "quantitative", "axis": null}, "y": {"field": "hi", "type": "quantitative", "axis": null}, "y2": {"field": "lo"}}},
{"data": {"name": "L_pi15"}, "mark": {"type": "line", "color": "#000", "strokeWidth": 1.3, "strokeDash": [1.5, 2], "clip": true},
 "encoding": {"x": {"field": "x", "type": "quantitative", "axis": null}, "y": {"field": "lg", "type": "quantitative", "axis": null}}},
{"data": {"name": "L_20944"}, "mark": {"type": "line", "color": "#000", "strokeWidth": 1.8, "clip": true},
 "encoding": {"x": {"field": "x", "type": "quantitative", "axis": null}, "y": {"field": "lg", "type": "quantitative", "axis": null}}},
{"data": {"name": "L_206"}, "mark": {"type": "line", "color": "#000", "strokeWidth": 1.8, "strokeDash": [5, 3], "clip": true},
 "encoding": {"x": {"field": "x", "type": "quantitative", "axis": null}, "y": {"field": "lg", "type": "quantitative", "axis": null}}},
{"data": {"name": "L_init"}, "mark": {"type": "line", "color": "#000", "strokeWidth": 2.4, "clip": true},
 "encoding": {"x": {"field": "x", "type": "quantitative", "axis": null}, "y": {"field": "lg", "type": "quantitative", "axis": null}, "detail": {"field": "seg"}}},
{"data": {"name": "L_initdot"}, "mark": {"type": "line", "color": "#000", "strokeWidth": 1.3, "strokeDash": [1.5, 2], "clip": true},
 "encoding": {"x": {"field": "x", "type": "quantitative", "axis": null}, "y": {"field": "lg", "type": "quantitative", "axis": null}}},
{"data": {"name": "L_bars"}, "mark": {"type": "rule", "color": "#000", "strokeWidth": 1},
 "encoding": {"x": {"field": "x", "type": "quantitative", "axis": null}, "y": {"field": "hi", "type": "quantitative", "axis": null}, "y2": {"field": "lo"}}},
{"data": {"name": "L_delta"}, "mark": {"type": "text", "font": "Liberation Serif", "fontStyle": "italic", "fontSize": 26, "align": "left", "baseline": "alphabetic", "color": "#000"},
 "encoding": {"x": {"field": "x", "type": "quantitative", "axis": null}, "y": {"field": "lg", "type": "quantitative", "axis": null}, "text": {"field": "t"}}},
{"data": {"name": "L_omega"}, "mark": {"type": "text", "font": "Liberation Serif", "fontStyle": "italic", "fontSize": 17, "align": "left", "baseline": "alphabetic", "color": "#000"},
 "encoding": {"x": {"field": "x", "type": "quantitative", "axis": null}, "y": {"field": "lg", "type": "quantitative", "axis": null}, "text": {"field": "t"}}},
{"data": {"name": "L_head"}, "mark": {"type": "text", "font": "Liberation Sans", "fontSize": 20.5, "align": "left", "baseline": "alphabetic", "color": "#000"},
 "encoding": {"x": {"field": "x", "type": "quantitative", "axis": {"orient": "top", "values": [50,100], "labels": false, "title": null}}, "y": {"field": "lg", "type": "quantitative", "axis": {"orient": "right", "values": [-15,-14,-13,-12,-11,-10,-9,-8,-7,-6,-5,-4,-3,-2,-1], "labels": false, "title": null}}, "text": {"field": "t"}}},
{"data": {"name": "L_labels"}, "mark": {"type": "text", "text": "ω", "font": "Liberation Serif", "fontStyle": "italic", "fontSize": 14, "align": "left", "baseline": "alphabetic", "color": "#000"},
 "encoding": {"x": {"field": "x", "type": "quantitative", "axis": null}, "y": {"field": "lg", "type": "quantitative", "axis": null}}},
{"data": {"name": "L_labels"}, "mark": {"type": "text", "font": "Liberation Serif", "fontSize": 14, "align": "left", "baseline": "alphabetic", "dx": 20, "color": "#000"},
 "encoding": {"x": {"field": "x", "type": "quantitative", "axis": null}, "y": {"field": "lg", "type": "quantitative", "axis": null}, "text": {"field": "t"}}},
{"data": {"name": "L_arrows"}, "mark": {"type": "rule", "color": "#000", "strokeWidth": 1},
 "encoding": {"x": {"field": "x", "type": "quantitative", "axis": null}, "x2": {"field": "x2"}, "y": {"field": "ya", "type": "quantitative", "axis": null}, "y2": {"field": "yb"}}},
{"data": {"name": "L_arrows"}, "transform": [{"filter": "datum.dir === 'down'"}], "mark": {"type": "point", "shape": "M-0.33,-1L0.33,-1L0,0Z", "filled": true, "color": "#000", "opacity": 1, "size": 225, "angle": 0, "strokeWidth": 0},
 "encoding": {"x": {"field": "x2", "type": "quantitative", "axis": null}, "y": {"field": "yb", "type": "quantitative", "axis": null}}},
{"data": {"name": "L_arrows"}, "transform": [{"filter": "datum.dir === 'left'"}], "mark": {"type": "point", "shape": "M-0.33,-1L0.33,-1L0,0Z", "filled": true, "color": "#000", "opacity": 1, "size": 225, "angle": 90, "strokeWidth": 0},
 "encoding": {"x": {"field": "x2", "type": "quantitative", "axis": null}, "y": {"field": "yb", "type": "quantitative", "axis": null}}},
{"data": {"name": "L_arrows"}, "transform": [{"filter": "datum.dir === 'right'"}], "mark": {"type": "point", "shape": "M-0.33,-1L0.33,-1L0,0Z", "filled": true, "color": "#000", "opacity": 1, "size": 225, "angle": 270, "strokeWidth": 0},
 "encoding": {"x": {"field": "x2", "type": "quantitative", "axis": null}, "y": {"field": "yb", "type": "quantitative", "axis": null}}},
{"data": {"name": "L_arrows"}, "transform": [{"filter": "datum.dir === 'diag'"}], "mark": {"type": "point", "shape": "M-0.33,-1L0.33,-1L0,0Z", "filled": true, "color": "#000", "opacity": 1, "size": 225, "angle": 251.6, "strokeWidth": 0},
 "encoding": {"x": {"field": "x2", "type": "quantitative", "axis": null}, "y": {"field": "yb", "type": "quantitative", "axis": null}}}
]
},
{
"width": 416, "height": 328,
"title": {"text": "(b)", "orient": "bottom", "anchor": "middle", "frame": "group", "font": "Liberation Serif", "fontSize": 19, "fontWeight": "normal", "color": "#000", "offset": 7},
"resolve": {"axis": {"x": "independent", "y": "independent"}},
"layer": [
{"data": {"name": "R_b1"}, "mark": {"type": "area", "color": "#000", "clip": true},
 "encoding": {
  "x": {"field": "x", "type": "quantitative", "scale": {"domain": [0,150], "nice": false, "zero": false}, "axis": {"orient": "bottom", "values": [0,50,100,150], "title": "Signal’s periods", "labelPadding": 11, "titleY": 31, "titleBaseline": "middle"}},
  "y": {"field": "hi", "type": "quantitative", "scale": {"domain": [-16,0], "nice": false, "zero": false}, "axis": {"orient": "left", "values": [-15,-14,-13,-12,-11,-10,-9,-8,-7,-6,-5,-4,-3,-2,-1,0], "labelExpr": "datum.value === 0 ? '10⁰' : datum.value === -5 ? '10⁻⁵' : datum.value === -10 ? '10⁻¹⁰' : datum.value === -15 ? '10⁻¹⁵' : ''", "title": null, "labelPadding": 14}},
  "y2": {"field": "lo"}}},
{"data": {"name": "R_b2"}, "mark": {"type": "area", "color": "#000", "clip": true},
 "encoding": {"x": {"field": "x", "type": "quantitative", "axis": null}, "y": {"field": "hi", "type": "quantitative", "axis": null}, "y2": {"field": "lo"}}},
{"data": {"name": "R_b3"}, "mark": {"type": "area", "color": "#000", "clip": true},
 "encoding": {"x": {"field": "x", "type": "quantitative", "axis": null}, "y": {"field": "hi", "type": "quantitative", "axis": null}, "y2": {"field": "lo"}}},
{"data": {"name": "R_white"}, "mark": {"type": "rule", "color": "#fff", "strokeWidth": 0.8},
 "encoding": {"x": {"field": "x", "type": "quantitative", "axis": null}, "y": {"field": "hi", "type": "quantitative", "axis": null}, "y2": {"field": "lo"}}},
{"data": {"name": "R_spikes"}, "mark": {"type": "rule", "color": "#000", "strokeWidth": 1},
 "encoding": {"x": {"field": "x", "type": "quantitative", "axis": null}, "y": {"field": "hi", "type": "quantitative", "axis": null}, "y2": {"field": "lo"}}},
{"data": {"name": "R_lines"}, "mark": {"type": "line", "color": "#000", "strokeWidth": 1.1, "clip": true},
 "encoding": {"x": {"field": "x", "type": "quantitative", "axis": null}, "y": {"field": "lg", "type": "quantitative", "axis": null}, "detail": {"field": "seg"}}},
{"data": {"name": "R_bars"}, "mark": {"type": "rule", "color": "#000", "strokeWidth": 1},
 "encoding": {"x": {"field": "x", "type": "quantitative", "axis": null}, "y": {"field": "hi", "type": "quantitative", "axis": null}, "y2": {"field": "lo"}}},
{"data": {"name": "R_delta"}, "mark": {"type": "text", "font": "Liberation Serif", "fontStyle": "italic", "fontSize": 26, "align": "left", "baseline": "alphabetic", "color": "#000"},
 "encoding": {"x": {"field": "x", "type": "quantitative", "axis": null}, "y": {"field": "lg", "type": "quantitative", "axis": null}, "text": {"field": "t"}}},
{"data": {"name": "R_omega"}, "mark": {"type": "text", "font": "Liberation Serif", "fontStyle": "italic", "fontSize": 17, "align": "left", "baseline": "alphabetic", "color": "#000"},
 "encoding": {"x": {"field": "x", "type": "quantitative", "axis": null}, "y": {"field": "lg", "type": "quantitative", "axis": null}, "text": {"field": "t"}}},
{"data": {"name": "R_head"}, "mark": {"type": "text", "font": "Liberation Sans", "fontSize": 20.5, "align": "left", "baseline": "alphabetic", "color": "#000"},
 "encoding": {"x": {"field": "x", "type": "quantitative", "axis": {"orient": "top", "values": [50,100], "labels": false, "title": "\u00a0", "titleFontSize": 10, "titlePadding": 0}}, "y": {"field": "lg", "type": "quantitative", "axis": {"orient": "right", "values": [-15,-14,-13,-12,-11,-10,-9,-8,-7,-6,-5,-4,-3,-2,-1], "labels": false, "title": null}}, "text": {"field": "t"}}},
{"data": {"name": "R_labels"}, "mark": {"type": "text", "text": "ω", "font": "Liberation Serif", "fontStyle": "italic", "fontSize": 15, "align": "left", "baseline": "alphabetic", "color": "#000"},
 "encoding": {"x": {"field": "x", "type": "quantitative", "axis": null}, "y": {"field": "lg", "type": "quantitative", "axis": null}}},
{"data": {"name": "R_labels"}, "mark": {"type": "text", "font": "Liberation Serif", "fontSize": 15, "align": "left", "baseline": "alphabetic", "dx": 22, "color": "#000"},
 "encoding": {"x": {"field": "x", "type": "quantitative", "axis": null}, "y": {"field": "lg", "type": "quantitative", "axis": null}, "text": {"field": "t"}}},
{"data": {"name": "R_arrows"}, "mark": {"type": "rule", "color": "#000", "strokeWidth": 1},
 "encoding": {"x": {"field": "x", "type": "quantitative", "axis": null}, "x2": {"field": "x2"}, "y": {"field": "ya", "type": "quantitative", "axis": null}, "y2": {"field": "yb"}}},
{"data": {"name": "R_arrows"}, "mark": {"type": "point", "shape": "M-0.33,-1L0.33,-1L0,0Z", "filled": true, "color": "#000", "opacity": 1, "size": 225, "angle": 0, "strokeWidth": 0},
 "encoding": {"x": {"field": "x2", "type": "quantitative", "axis": null}, "y": {"field": "yb", "type": "quantitative", "axis": null}}}
]
}
]
}
